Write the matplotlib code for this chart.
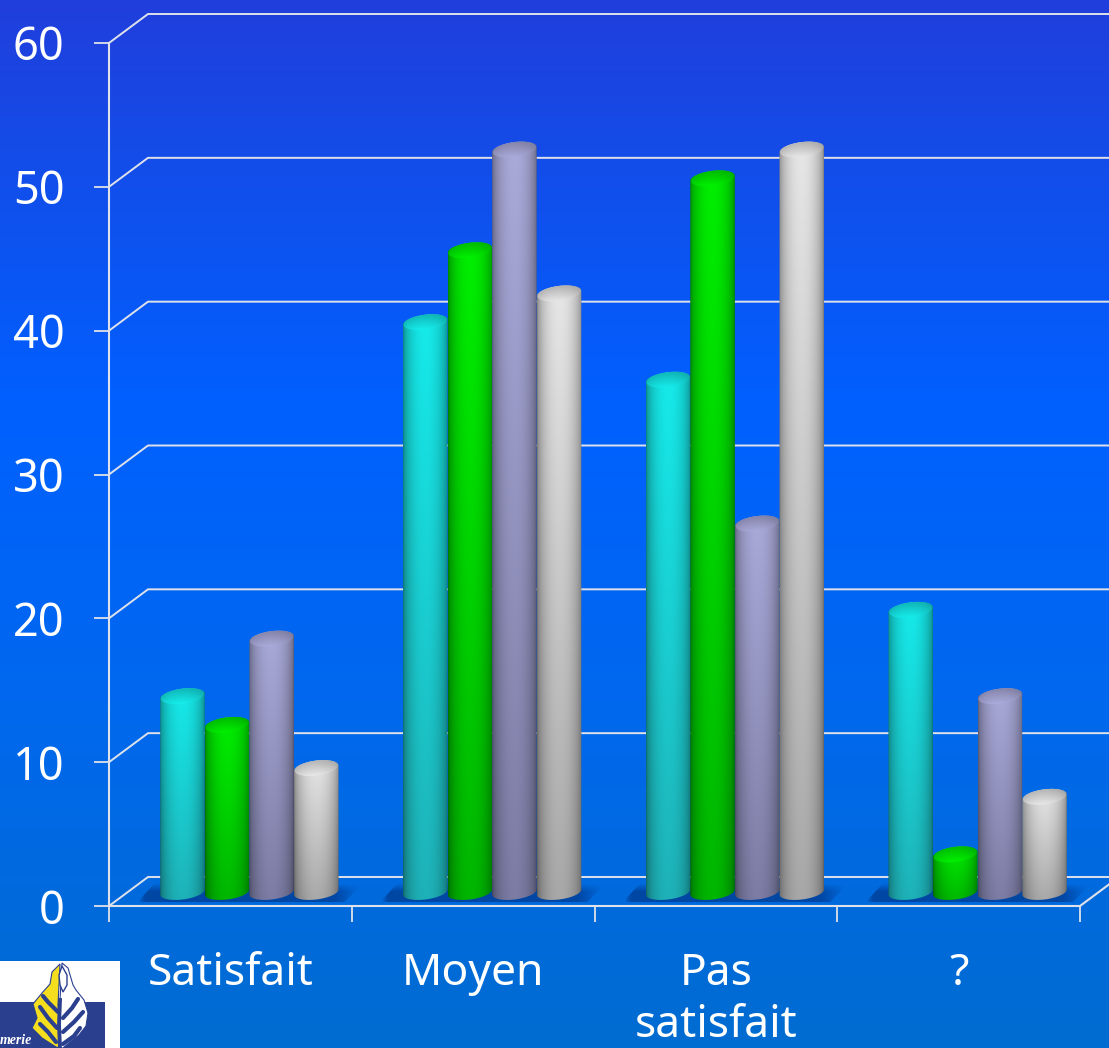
import numpy as np
import matplotlib
matplotlib.use("Agg")
import matplotlib.pyplot as plt
from matplotlib.path import Path
from matplotlib.patches import PathPatch, Polygon, Rectangle

# ── Data ──────────────────────────────────────────────
CATEGORIES = ["Satisfait", "Moyen", "Pas\nsatisfait", "?"]
SERIES_A = [14, 40, 36, 20]
SERIES_B = [12, 45, 50, 3]
SERIES_C = [18, 52, 26, 14]
SERIES_D = [9, 42, 52, 7]
Y_TICKS = [0, 10, 20, 30, 40, 50, 60]

# (top colour, bottom colour) of each cylinder series
COLORS = [
    ((22, 234, 234), (30, 178, 184)),
    ((0, 238, 0), (0, 182, 0)),
    ((170, 170, 218), (124, 124, 164)),
    ((230, 230, 230), (168, 168, 168)),
]
LINE = "#dfe2ea"

W, H = 1109, 1048
AX_L, AX_R, AX_T, AX_B = 109, 1080, 43, 906
PX_X = 4 / (AX_R - AX_L)   # data units per pixel
PX_Y = 60 / (AX_B - AX_T)
DEPTH_X = 39 * PX_X
DEPTH_Y = 29 * PX_Y
BAR_W = 44.6 * PX_X


def show_clipped(ax, img, extent, clip_xy, zorder):
    """imshow an array in data coords, clipped to a polygon."""
    im = ax.imshow(img, extent=extent, origin="lower", aspect="auto",
                   interpolation="bilinear", zorder=zorder)
    patch = PathPatch(Path(np.vstack([clip_xy, clip_xy[:1]])),
                      transform=ax.transData)
    im.set_clip_path(patch)
    im.set_clip_box(ax.figure.bbox)


def draw_cylinder(ax, left, value, colors, zorder):
    top_c, bot_c = np.array(colors[0]) / 255, np.array(colors[1]) / 255
    right = left + BAR_W
    cx = left + BAR_W / 2
    y_bot = 14 * PX_Y
    y_top = value + 8.5 * PX_Y
    ry = 7.5 * PX_Y
    tilt = 2.6 * PX_Y

    t = np.linspace(np.pi, 2 * np.pi, 40)
    bx = cx + BAR_W / 2 * np.cos(t)
    by = y_bot + ry * np.sin(t) + tilt * np.cos(t)
    t2 = np.linspace(0, np.pi, 40)
    tx = cx + BAR_W / 2 * np.cos(t2)
    ty = y_top + ry * np.sin(t2) + tilt * np.cos(t2)
    body = np.column_stack([np.r_[bx, tx], np.r_[by, ty]])

    u = np.linspace(0, 1, 60)
    prof = 0.56 + 0.44 * np.sin(np.pi * u) ** 0.5
    v = np.linspace(0, 1, 40)[:, None, None]
    img = (bot_c * (1 - v) + top_c * v) * prof[None, :, None]
    show_clipped(ax, np.clip(img, 0, 1),
                 (left, right, y_bot - ry - tilt, y_top + ry + tilt),
                 body, zorder)

    # top cap: darker at the rear, bright rim at the front
    t3 = np.linspace(0, 2 * np.pi, 80)
    cap = np.column_stack([cx + BAR_W / 2 * 0.97 * np.cos(t3),
                           y_top + ry * np.sin(t3) + tilt * np.cos(t3)])
    w = np.linspace(0, 1, 30)[:, None, None]
    cap_img = top_c * (1.04 - 0.30 * w)
    cap_img = cap_img * (0.82 + 0.18 * np.sin(np.pi * u) ** 0.5)[None, :, None]
    show_clipped(ax, np.clip(cap_img, 0, 1),
                 (left, right, y_top - ry - tilt, y_top + ry + tilt),
                 cap, zorder + 0.5)


def draw_shadow(ax, left, right):
    poly = np.array([
        [left - 23 * PX_X, 4 * PX_Y],
        [right + 6 * PX_X, 4 * PX_Y],
        [right + 23 * PX_X, 21 * PX_Y],
        [left - 5 * PX_X, 23 * PX_Y],
    ])
    u = np.linspace(0, 1, 80)
    v = np.linspace(0, 1, 30)
    fade_x = np.clip((1 - u) / 0.12, 0, 1) * np.clip(u / 0.03, 0, 1)
    fade_y = np.clip((1 - v) / 0.45, 0, 1)
    img = np.zeros((30, 80, 4))
    img[..., :3] = np.array([0, 68, 160]) / 255
    img[..., 3] = np.outer(fade_y, fade_x) * 0.95
    show_clipped(ax, img, (poly[:, 0].min(), poly[:, 0].max(),
                           poly[:, 1].min(), poly[:, 1].max()), poly, 2)


def draw_logo(fig):
    ax = fig.add_axes([0, 0, 120 / W, 87 / H])
    ax.set_xlim(0, 120)
    ax.set_ylim(1048, 961)
    ax.axis("off")
    navy = "#2b3f8f"
    ax.add_patch(Rectangle((0, 961), 120, 87, fc="white", ec="none"))
    ax.add_patch(Rectangle((0, 1002), 104.5, 46, fc=navy, ec="none"))
    white = [(62, 963), (68, 968), (73, 985), (76, 990), (84, 1000), (88, 1013),
             (86, 1026), (79, 1035), (70, 1042), (63, 1048)]
    yellow = [(60, 964), (52, 972), (50, 984), (42, 993), (33, 1004), (37, 1018),
              (32, 1028), (42, 1038), (56, 1047), (60, 1048), (60, 1030), (58, 1005)]
    ax.add_patch(Polygon(white + [(60, 1048), (60, 1000)], fc="white", ec=navy, lw=0.8))
    ax.add_patch(Polygon(yellow, fc="#f5de1e", ec=navy, lw=0.8))
    ax.add_patch(Polygon([(62, 966), (67, 975), (67, 985), (63, 992), (60, 985), (59, 975)],
                         fc="white", ec=navy, lw=1.0))
    veins = [
        [(58, 1012), (48, 1002), (43, 996)],
        [(57, 1028), (48, 1018), (40, 1007)],
        [(56, 1042), (48, 1032), (40, 1024)],
        [(63, 1018), (72, 1008), (78, 999)],
        [(63, 1032), (74, 1022), (83, 1012)],
        [(63, 1044), (74, 1036), (80, 1028)],
    ]
    for vein in veins:
        xs, ys = zip(*vein)
        ax.plot(xs, ys, color=navy, lw=3.0, solid_capstyle="round")
    ax.plot([60, 59, 60], [1000, 1025, 1048], color=navy, lw=2.8)
    ax.text(0, 1041, "merie", color="white", fontsize=10, style="italic",
            fontweight="bold", family="Liberation Serif", va="center", ha="left")


def main():
    plt.rcParams["font.family"] = ["Noto Sans", "DejaVu Sans"]
    plt.rcParams["font.weight"] = "light"
    fig = plt.figure(figsize=(W / 100, H / 100), dpi=100)

    # background gradient
    bg = fig.add_axes([0, 0, 1, 1], zorder=-1)
    bg.axis("off")
    ys = np.arange(H)
    grad = np.column_stack([
        np.interp(ys, [0, 150, 400, 700, H], [33, 20, 0, 0, 0]),
        np.interp(ys, [0, 150, 400, 700, H], [62, 76, 96, 104, 108]),
        np.interp(ys, [0, 150, 400, 700, H], [220, 232, 255, 238, 208]),
    ])[:, None, :] / 255
    bg.imshow(grad, aspect="auto", interpolation="bilinear")

    ax = fig.add_axes([AX_L / W, 1 - AX_B / H, (AX_R - AX_L) / W, (AX_B - AX_T) / H])
    ax.patch.set_visible(False)

    # walls and floor lines
    right_end = (W - AX_L) * PX_X
    for val in Y_TICKS:
        ax.plot([0, DEPTH_X, right_end], [val, val + DEPTH_Y, val + DEPTH_Y],
                color=LINE, lw=1.4, clip_on=False, zorder=1,
                solid_joinstyle="round")
    ax.plot([4, 4 + DEPTH_X], [0, DEPTH_Y], color=LINE, lw=1.5, clip_on=False, zorder=1)

    # bars
    series = [SERIES_A, SERIES_B, SERIES_C, SERIES_D]
    for i in range(len(CATEGORIES)):
        group_left = i + 0.5 + 19 * PX_X - 2 * BAR_W
        draw_shadow(ax, group_left, group_left + 4 * BAR_W)
        for j, values in enumerate(series):
            draw_cylinder(ax, group_left + j * BAR_W, values[i], COLORS[j],
                          zorder=3 + i + j * 0.1)

    ax.set_xlim(0, 4)
    ax.set_ylim(0, 60)

    for name in ["top", "right"]:
        ax.spines[name].set_visible(False)
    for name in ["left", "bottom"]:
        ax.spines[name].set_color(LINE)
        ax.spines[name].set_linewidth(1.5)
        ax.spines[name].set_zorder(10)

    ax.set_yticks(Y_TICKS)
    ax.tick_params(axis="y", length=11, width=1.3, color=LINE, labelcolor="white",
                   labelsize=32.5, pad=21)
    ax.set_xticks(range(5))
    ax.set_xticklabels([])
    ax.tick_params(axis="x", which="major", length=11.5, width=1.3, color=LINE)
    ax.set_xticks(np.arange(4) + 0.5, minor=True)
    ax.set_xticklabels(CATEGORIES, minor=True, linespacing=1.24)
    ax.tick_params(axis="x", which="minor", length=0, labelcolor="white",
                   labelsize=32, pad=33)

    draw_logo(fig)
    fig.savefig("out.png", dpi=100)


if __name__ == "__main__":
    main()
